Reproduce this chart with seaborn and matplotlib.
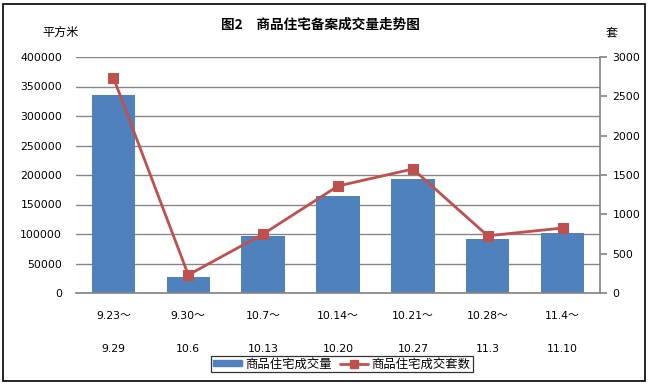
import numpy as np
import pandas as pd
import matplotlib
matplotlib.use("Agg")
import matplotlib.pyplot as plt
import seaborn as sns
from matplotlib.patches import Rectangle
from matplotlib.lines import Line2D

sns.set_theme(style="white")
plt.rcParams['font.family'] = ['DejaVu Sans', 'Noto Sans CJK SC']
plt.rcParams['text.color'] = 'black'
plt.rcParams['xtick.labelcolor'] = 'black'
plt.rcParams['ytick.labelcolor'] = 'black'
CJK = ['Noto Sans CJK SC', 'DejaVu Sans']

categories = ["9.23～\n\n9.29", "9.30～\n\n10.6", "10.7～\n\n10.13", "10.14～\n\n10.20",
              "10.21～\n\n10.27", "10.28～\n\n11.3", "11.4～\n\n11.10"]
area = [335500, 27000, 96500, 164500, 193000, 91500, 101500]
units = [2737, 230, 750, 1360, 1576, 727, 826]
area_ticks = [0, 50000, 100000, 150000, 200000, 250000, 300000, 350000, 400000]
unit_ticks = [0, 500, 1000, 1500, 2000, 2500, 3000]

bar_color = "#4F81BD"
line_color = "#C0504D"
grid_color = "#868686"

fig = plt.figure(figsize=(6.49, 3.84), dpi=100)
ax = fig.add_axes([76/649, 1-293/384, (600-76)/649, (293-57)/384])

df = pd.DataFrame({"cat": categories, "area": area, "units": units})
sns.barplot(data=df, x="cat", y="area", color=bar_color, width=0.58, saturation=1,
            linewidth=0, ax=ax, zorder=2)
ax.set_ylim(0, 400000)
ax.set_yticks(area_ticks)
ax.set_yticklabels([str(t) for t in area_ticks], fontsize=7.8, color="black")
ax.yaxis.grid(True, color=grid_color, linewidth=1)
ax.set_axisbelow(True)
ax.set_xlabel("")
ax.set_ylabel("")
ax.set_xlim(-0.5, 6.5)
ax.tick_params(axis='x', length=0, pad=13, labelsize=7.8, labelcolor="black")
ax.tick_params(axis='y', length=0, pad=10, labelcolor="black")
for t in ax.get_xticklabels():
    t.set_linespacing(1.78)
for s in ["top", "left"]:
    ax.spines[s].set_visible(False)
ax.spines["bottom"].set_color(grid_color)
ax.spines["right"].set_visible(False)

ax2 = ax.twinx()
sns.lineplot(x=np.arange(len(units)), y=units, ax=ax2, color=line_color, linewidth=2,
             marker="s", markersize=7, markeredgecolor=line_color, zorder=3)
ax2.set_ylim(0, 3000)
ax2.set_yticks(unit_ticks)
ax2.set_yticklabels([str(t) for t in unit_ticks], fontsize=7.8, color="black")
ax2.tick_params(axis='y', length=5, color=grid_color, direction='out', pad=4, labelcolor="black")
for s in ["top", "left", "bottom"]:
    ax2.spines[s].set_visible(False)
ax2.spines["right"].set_color(grid_color)
ax2.set_xlim(-0.5, 6.5)
ax2.set_ylabel("")

fig.text(320.5/649, 1-25/384, "图2　商品住宅备案成交量走势图", ha="center", va="center",
         fontsize=9.8, fontweight="bold", family=CJK, color="black")
fig.text(61/649, 1-32.5/384, "平方米", ha="center", va="center", fontsize=8.7, family=CJK,
         color="black")
fig.text(612/649, 1-32.5/384, "套", ha="center", va="center", fontsize=8.7, family=CJK,
         color="black")

handles = [Rectangle((0, 0), 1, 1, color=bar_color),
           Line2D([0], [0], color=line_color, linewidth=2, marker="s", markersize=6)]
leg = fig.legend(handles, ["商品住宅成交量", "商品住宅成交套数"], loc="center",
                 bbox_to_anchor=(342/649, 1-364/384), ncol=2, frameon=True,
                 prop={'family': CJK, 'size': 8.9},
                 fancybox=False, edgecolor="black", handlelength=2.3, handleheight=0.4,
                 borderpad=0.15, columnspacing=0.6, handletextpad=0.3, borderaxespad=0)
leg.get_frame().set_linewidth(0.9)
for t in leg.get_texts():
    t.set_color("black")

fig.patches.append(Rectangle((3/649, 3/384), 642/649, 377/384, transform=fig.transFigure,
                             fill=False, edgecolor="black", linewidth=1.2))

fig.savefig("out.png", dpi=100)
